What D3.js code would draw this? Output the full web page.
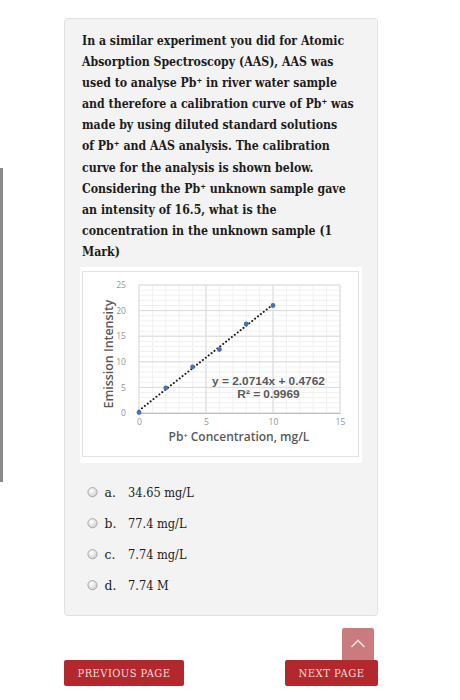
<!DOCTYPE html>
<html>
<head>
<meta charset="utf-8">
<script src="https://cdn.jsdelivr.net/npm/d3@7"></script>
<style>
  html, body { margin: 0; padding: 0; background: #fff; }
  svg { display: block; }
</style>
</head>
<body>
<svg id="page"></svg>
<script>
// page size
const width = 460;
const height = 700;

// question text, one entry per wrapped line
const questionLines = [
  "In a similar experiment you did for Atomic",
  "Absorption Spectroscopy (AAS), AAS was",
  "used to analyse Pb\u207A in river water sample",
  "and therefore a calibration curve of Pb\u207A was",
  "made by using diluted standard solutions",
  "of Pb\u207A and AAS analysis. The calibration",
  "curve for the analysis is shown below.",
  "Considering the Pb\u207A unknown sample gave",
  "an intensity of 16.5, what is the",
  "concentration in the unknown sample (1",
  "Mark)"
];

// calibration data
const concentration = [0, 2, 4, 6, 8, 10];
const intensity = [0.1, 4.9, 9.0, 12.4, 17.4, 21.0];
const xTicks = [0, 5, 10, 15];
const yTicks = [0, 5, 10, 15, 20, 25];
const slope = 2.0714;
const intercept = 0.4762;
const equationLines = ["y = 2.0714x + 0.4762", "R\u00B2 = 0.9969"];

// answer options
const optionLetters = ["a.", "b.", "c.", "d."];
const optionValues = ["34.65 mg/L", "77.4 mg/L", "7.74 mg/L", "7.74 M"];

const serif = "'Roboto Slab', 'DejaVu Serif', serif";
const sans = "'Open Sans', 'Noto Sans', sans-serif";

const svg = d3.select("#page")
  .attr("width", width)
  .attr("height", height);

// squeeze a text group horizontally so a reference line gets a given width
function fitGroup(g, x0, refNode, targetWidth) {
  const w = refNode.getComputedTextLength();
  const k = Math.min(1, targetWidth / w);
  g.attr("transform", `translate(${x0},0) scale(${k},1)`);
}

const defs = svg.append("defs");
const radioGrad = defs.append("radialGradient")
  .attr("id", "radio").attr("cx", "40%").attr("cy", "35%").attr("r", "70%");
radioGrad.append("stop").attr("offset", "0%").attr("stop-color", "#ffffff");
radioGrad.append("stop").attr("offset", "100%").attr("stop-color", "#cdcdcd");

// left scrollbar strip
svg.append("rect")
  .attr("x", 0).attr("y", 168).attr("width", 3).attr("height", 314)
  .attr("fill", "#8a8a8a");

// question card
svg.append("rect")
  .attr("x", 64.5).attr("y", 18.5).attr("width", 313).attr("height", 597)
  .attr("rx", 3)
  .attr("fill", "#f3f3f3")
  .attr("stroke", "#e1e1e1");

const qGroup = svg.append("g");
qGroup.selectAll("text")
  .data(questionLines)
  .join("text")
  .attr("x", 0)
  .attr("y", (d, i) => 45 + i * 21.1)
  .attr("font-family", serif)
  .attr("font-weight", "bold")
  .attr("font-size", 13.2)
  .attr("fill", "#1c1c1c")
  .text(d => d);
// line 4 is the widest one: about 272px in the reference
fitGroup(qGroup, 82, qGroup.selectAll("text").nodes()[3], 272);

// chart image frame
svg.append("rect")
  .attr("x", 80).attr("y", 267).attr("width", 282).attr("height", 196)
  .attr("fill", "#ffffff");
svg.append("rect")
  .attr("x", 82.5).attr("y", 271.5).attr("width", 276).attr("height", 185)
  .attr("fill", "#ffffff")
  .attr("stroke", "#e3e3e3");

const x = d3.scaleLinear().domain([0, 15]).range([139, 340]);
const y = d3.scaleLinear().domain([0, 25]).range([413, 285]);

const chart = svg.append("g");

// minor gridlines
chart.append("g")
  .selectAll("line")
  .data(d3.range(0, 16))
  .join("line")
  .attr("x1", d => x(d)).attr("x2", d => x(d))
  .attr("y1", y(0)).attr("y2", y(25))
  .attr("stroke", "#f1f1f1");
chart.append("g")
  .selectAll("line")
  .data(d3.range(0, 26))
  .join("line")
  .attr("x1", x(0)).attr("x2", x(15))
  .attr("y1", d => y(d)).attr("y2", d => y(d))
  .attr("stroke", "#f1f1f1");

// major gridlines
chart.append("g")
  .selectAll("line")
  .data(xTicks)
  .join("line")
  .attr("x1", d => x(d)).attr("x2", d => x(d))
  .attr("y1", y(0)).attr("y2", y(25))
  .attr("stroke", "#dadada");
chart.append("g")
  .selectAll("line")
  .data(yTicks)
  .join("line")
  .attr("x1", x(0)).attr("x2", x(15))
  .attr("y1", d => y(d)).attr("y2", d => y(d))
  .attr("stroke", "#dadada");

// axes
const xAxis = chart.append("g")
  .attr("transform", `translate(0,${y(0)})`)
  .call(d3.axisBottom(x).tickValues(xTicks).tickSize(0).tickPadding(6));
xAxis.select(".domain").attr("stroke", "#bdbdbd");

const yAxis = chart.append("g")
  .attr("transform", `translate(${x(0)},0)`)
  .call(d3.axisLeft(y).tickValues(yTicks).tickSize(0).tickPadding(13));
yAxis.select(".domain").remove();

chart.selectAll(".tick text")
  .attr("font-family", sans)
  .attr("font-size", 8.6)
  .attr("fill", "#979797");

// trendline (dotted)
chart.append("line")
  .attr("x1", x(0)).attr("y1", y(intercept))
  .attr("x2", x(10)).attr("y2", y(slope * 10 + intercept))
  .attr("stroke", "#1f1f1f")
  .attr("stroke-width", 2)
  .attr("stroke-linecap", "round")
  .attr("stroke-dasharray", "0.1,3.6");

// data points
chart.append("g")
  .selectAll("circle")
  .data(concentration.map((c, i) => [c, intensity[i]]))
  .join("circle")
  .attr("cx", d => x(d[0]))
  .attr("cy", d => y(d[1]))
  .attr("r", 2.4)
  .attr("fill", "#4a6fb5");

// equation label (tighter line metrics so the two lines sit close),
// widened a bit around its centre to the reference width
const eqX = 268.5;
const eqK = 1.08;
chart.append("g")
  .attr("transform", `translate(${eqX * (1 - eqK)},0) scale(${eqK},1)`)
  .selectAll("text")
  .data(equationLines)
  .join("text")
  .attr("x", eqX)
  .attr("y", (d, i) => 384.8 + i * 12.8)
  .attr("text-anchor", "middle")
  .attr("font-family", "'Liberation Sans', Arial, sans-serif")
  .attr("font-weight", "bold")
  .attr("font-size", 11)
  .attr("fill", "#595959")
  .text(d => d);

// axis titles
chart.append("text")
  .attr("transform", `translate(113,354) rotate(-90)`)
  .attr("text-anchor", "middle")
  .attr("font-family", sans)
  .attr("font-weight", 600)
  .attr("font-size", 12.4)
  .attr("fill", "#595959")
  .text("Emission Intensity");

chart.append("text")
  .attr("x", 239)
  .attr("y", 441)
  .attr("text-anchor", "middle")
  .attr("font-family", sans)
  .attr("font-weight", 600)
  .attr("font-size", 12)
  .attr("fill", "#595959")
  .text("Pb\u207A Concentration, mg/L");

// answer options
const options = svg.append("g")
  .selectAll("g")
  .data(optionLetters.map((l, i) => [l, optionValues[i]]))
  .join("g")
  .attr("transform", (d, i) => `translate(0,${497 + i * 31})`);

options.append("circle")
  .attr("cx", 92.5).attr("cy", -4.8).attr("r", 4.6)
  .attr("fill", "url(#radio)")
  .attr("stroke", "#9a9a9a")
  .attr("stroke-width", 0.8);

options.append("text")
  .attr("x", 104.5)
  .attr("font-family", serif)
  .attr("font-size", 12.4)
  .attr("fill", "#1c1c1c")
  .text(d => d[0]);

// option values, squeezed a little to the reference widths
options.append("text")
  .attr("transform", "translate(128,0) scale(0.92,1)")
  .attr("font-family", serif)
  .attr("font-size", 12.4)
  .attr("fill", "#1c1c1c")
  .text(d => d[1]);

// scroll-to-top button
svg.append("rect")
  .attr("x", 342).attr("y", 628).attr("width", 32).attr("height", 34)
  .attr("rx", 2)
  .attr("fill", "#c97b7e");
svg.append("path")
  .attr("d", "M351.5,647 L358,640.5 L364.5,647")
  .attr("fill", "none")
  .attr("stroke", "#f3dede")
  .attr("stroke-width", 1.6);

// navigation buttons
const buttons = [
  { label: "PREVIOUS PAGE", x: 64, w: 120, tw: 93 },
  { label: "NEXT PAGE", x: 285, w: 93, tw: 66 }
];
const btn = svg.append("g")
  .selectAll("g")
  .data(buttons)
  .join("g");
btn.append("rect")
  .attr("x", d => d.x).attr("y", 660)
  .attr("width", d => d.w).attr("height", 26)
  .attr("rx", 2)
  .attr("fill", "#b3282d");
btn.append("text")
  .attr("x", d => d.x + d.w / 2)
  .attr("y", 677.5)
  .attr("text-anchor", "middle")
  .attr("font-family", serif)
  .attr("font-size", 11)
  .attr("letter-spacing", 0.5)
  .attr("fill", "#f4dcdc")
  .text(d => d.label)
  .each(function(d) {
    const w = this.getComputedTextLength();
    if (w > d.tw) {
      const k = d.tw / w, cx = d.x + d.w / 2;
      d3.select(this).attr("transform", `translate(${cx * (1 - k)},0) scale(${k},1)`);
    }
  });
</script>
</body>
</html>
